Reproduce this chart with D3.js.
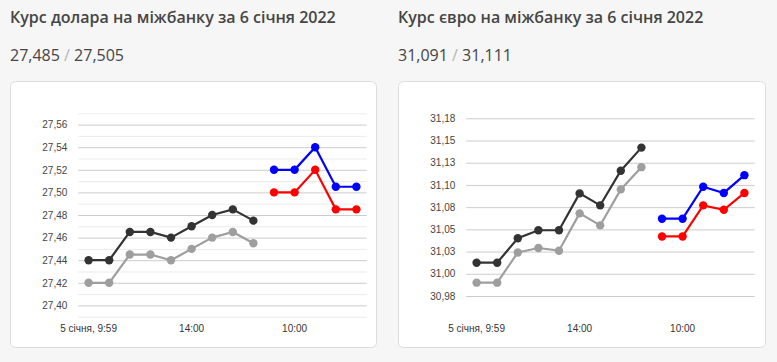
<!DOCTYPE html>
<html>
<head>
<meta charset="utf-8">
<script src="https://cdnjs.cloudflare.com/ajax/libs/d3/7.8.5/d3.min.js"></script>
<style>
  html, body { margin: 0; padding: 0; background: #f6f6f6; }
  svg { display: block; }
</style>
</head>
<body>
<svg id="chart" width="777" height="362"></svg>
<script>
// ---------- DATA ----------
const xLabels = ["5 січня, 9:59", "", "", "", "", "14:00", "", "", "", "", "10:00", "", "", ""];

// USD
const usdSellJan5 = [27.44, 27.44, 27.465, 27.465, 27.46, 27.47, 27.48, 27.485, 27.475, null, null, null, null, null];
const usdBuyJan5  = [27.42, 27.42, 27.445, 27.445, 27.44, 27.45, 27.46, 27.465, 27.455, null, null, null, null, null];
const usdSellJan6 = [null, null, null, null, null, null, null, null, null, 27.52, 27.52, 27.54, 27.505, 27.505];
const usdBuyJan6  = [null, null, null, null, null, null, null, null, null, 27.50, 27.50, 27.52, 27.485, 27.485];
const usdMajorTicks = [27.40, 27.42, 27.44, 27.46, 27.48, 27.50, 27.52, 27.54, 27.56];
const usdMajorLabels = ["27,40", "27,42", "27,44", "27,46", "27,48", "27,50", "27,52", "27,54", "27,56"];
const usdMinorTicks = [27.39, 27.41, 27.43, 27.45, 27.47, 27.49, 27.51, 27.53, 27.55, 27.57];

// EUR
const eurSellJan5 = [31.0125, 31.0125, 31.040, 31.049, 31.049, 31.0905, 31.077, 31.116, 31.142, null, null, null, null, null];
const eurBuyJan5  = [30.990, 30.990, 31.024, 31.029, 31.026, 31.068, 31.0545, 31.095, 31.120, null, null, null, null, null];
const eurSellJan6 = [null, null, null, null, null, null, null, null, null, 31.062, 31.062, 31.098, 31.091, 31.111];
const eurBuyJan6  = [null, null, null, null, null, null, null, null, null, 31.042, 31.042, 31.077, 31.072, 31.091];
const eurMajorTicks = [30.975, 31.000, 31.025, 31.050, 31.075, 31.100, 31.125, 31.150, 31.175];
const eurMajorLabels = ["30,98", "31,00", "31,03", "31,05", "31,08", "31,10", "31,13", "31,15", "31,18"];

const titles = ["Курс долара на міжбанку за 6 січня 2022", "Курс євро на міжбанку за 6 січня 2022"];
const quotes = [["27,485", "27,505"], ["31,091", "31,111"]];

// ---------- DRAW ----------
const svg = d3.select("#chart");
const seriesColors = ["#333333", "#9e9e9e", "#0000ff", "#ff0000"];

function drawPanel(opt) {
  const g = svg.append("g").attr("transform", `translate(${opt.left},0)`);

  // header
  g.append("text")
    .attr("x", 0).attr("y", 23)
    .attr("font-family", "'Open Sans', sans-serif")
    .attr("font-weight", 600)
    .attr("font-size", 16)
    .attr("fill", "#454545")
    .text(opt.title);
  const q = g.append("text")
    .attr("x", 0).attr("y", 61)
    .attr("font-family", "'Open Sans', sans-serif")
    .attr("font-size", 16)
    .attr("fill", "#454545");
  q.append("tspan").text(opt.quote[0]);
  q.append("tspan").attr("fill", "#b5b5b5").text(" / ");
  q.append("tspan").text(opt.quote[1]);

  // card
  g.append("rect")
    .attr("x", 0.5).attr("y", 81.5)
    .attr("width", opt.cardW).attr("height", 266)
    .attr("rx", 5)
    .attr("fill", "#ffffff")
    .attr("stroke", "#dcdcdc");

  const plotL = 68.3, plotR = 356.7;
  const x = d3.scaleBand().domain(d3.range(xLabels.length)).range([plotL, plotR]);
  const cx = i => x(i) + x.bandwidth() / 2;
  const y = d3.scaleLinear().domain(opt.yDomain).range(opt.yRange);

  // minor grid
  if (opt.minorTicks) {
    const minorAxis = g.append("g")
      .attr("transform", `translate(${plotL},0)`)
      .call(d3.axisLeft(y).tickValues(opt.minorTicks).tickSize(-(plotR - plotL)).tickFormat(""));
    minorAxis.select(".domain").remove();
    minorAxis.selectAll("line").attr("stroke", "#ebebeb");
  }
  // major grid + labels
  const yAxis = g.append("g")
    .attr("transform", `translate(${plotL},0)`)
    .call(d3.axisLeft(y).tickValues(opt.majorTicks).tickSize(-(plotR - plotL))
      .tickPadding(11)
      .tickFormat((d, i) => opt.majorLabels[i]));
  yAxis.select(".domain").remove();
  yAxis.selectAll("line").attr("stroke", "#cccccc");
  yAxis.selectAll("text")
    .attr("font-family", "Arial, 'Liberation Sans', sans-serif")
    .attr("font-size", 10)
    .attr("fill", "#444444");

  // x axis
  const xAxis = g.append("g")
    .attr("transform", `translate(0,316.7)`)
    .call(d3.axisBottom(x)
      .tickValues(xLabels.map((l, i) => l ? i : null).filter(v => v !== null))
      .tickSize(0).tickPadding(8)
      .tickFormat(i => xLabels[i]));
  xAxis.select(".domain").remove();
  xAxis.selectAll("text")
    .attr("font-family", "Arial, 'Liberation Sans', sans-serif")
    .attr("font-size", 10)
    .attr("fill", "#333333");

  // series
  const line = d3.line()
    .defined(d => d != null)
    .x((d, i) => cx(i))
    .y(d => y(d));
  opt.series.forEach((s, k) => {
    g.append("path")
      .datum(s)
      .attr("d", line)
      .attr("fill", "none")
      .attr("stroke", seriesColors[k])
      .attr("stroke-width", 2.2);
    g.append("g").selectAll("circle")
      .data(s.map((v, i) => ({ v, i })).filter(d => d.v != null))
      .join("circle")
      .attr("cx", d => cx(d.i))
      .attr("cy", d => y(d.v))
      .attr("r", 4.2)
      .attr("fill", seriesColors[k]);
  });
}

drawPanel({
  left: 10,
  cardW: 366,
  title: titles[0],
  quote: quotes[0],
  yDomain: [27.39, 27.57],
  yRange: [316.7, 113.3],
  majorTicks: usdMajorTicks,
  majorLabels: usdMajorLabels,
  minorTicks: usdMinorTicks,
  series: [usdSellJan5, usdBuyJan5, usdSellJan6, usdBuyJan6]
});

drawPanel({
  left: 398,
  cardW: 367,
  title: titles[1],
  quote: quotes[1],
  yDomain: [30.975, 31.175],
  yRange: [296, 118.3],
  majorTicks: eurMajorTicks,
  majorLabels: eurMajorLabels,
  minorTicks: null,
  series: [eurSellJan5, eurBuyJan5, eurSellJan6, eurBuyJan6]
});
</script>
</body>
</html>
